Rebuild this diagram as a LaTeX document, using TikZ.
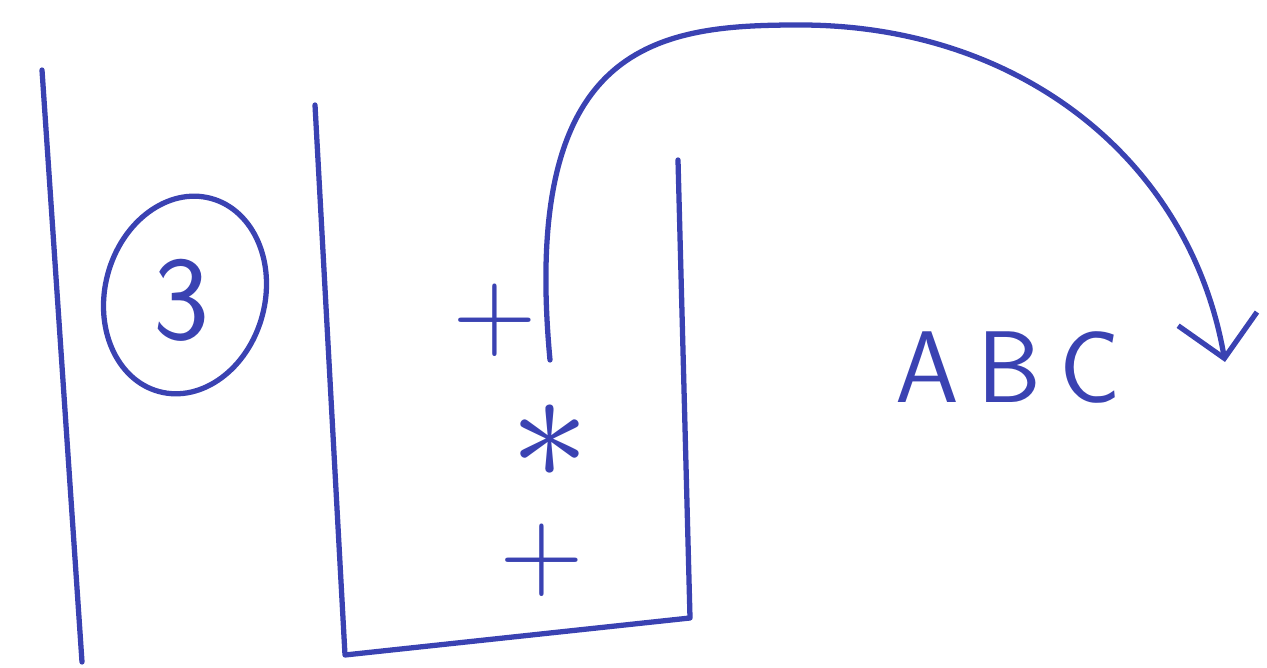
\documentclass[tikz,border=0pt]{standalone}
\usetikzlibrary{arrows.meta}
\definecolor{ink}{RGB}{58,66,178}
\tikzset{
  pen/.style={draw=ink,line width=1.5pt,line cap=round,line join=round},
  glyph/.style={text=ink,font=\sffamily\fontsize{34}{38}\selectfont,inner sep=0pt},
  sym/.style={text=ink,inner sep=0pt}
}
\begin{document}
\begin{tikzpicture}
  \useasboundingbox (0,0) rectangle (12.67,-6.68);
  % left margin line
  \draw [pen] (0.42,-0.7) -- (0.82,-6.62);
  % circled number
  \node [glyph] (num) at (1.82,-3.0) {3};
  \draw [pen,rotate around={-15:(1.85,-2.95)}] (1.85,-2.95) ellipse (0.8 and 1.0);
  % the stack
  \draw [pen] (3.15,-1.05) -- (3.45,-6.55) -- (6.9,-6.18) -- (6.78,-1.6);
  \foreach \s/\x/\y/\f [count=\i] in {+/4.95/-3.2/3.1,\ast/5.5/-4.42/4.5,+/5.42/-5.6/3.1}
    \node [sym] (item\i) at (\x,\y) {\scalebox{\f}{$\s$}};
  % the popped result
  \node [glyph,font=\sffamily\fontsize{29}{34}\selectfont] (res) at (10.08,-3.68)
    {A\hspace{0.18em}B\hspace{0.18em}C};
  \coordinate (tail) at (5.5,-3.6);
  \coordinate (head) at (12.25,-3.62);
  \draw [pen,-{Straight Barb[length=4mm,width=8mm,line width=1.5pt]}]
    (tail) .. controls (5.2,-0.4) and (6.6,-0.25) .. (8.0,-0.25)
    .. controls (10.2,-0.25) and (11.9,-1.6) .. (head);
\end{tikzpicture}
\end{document}
